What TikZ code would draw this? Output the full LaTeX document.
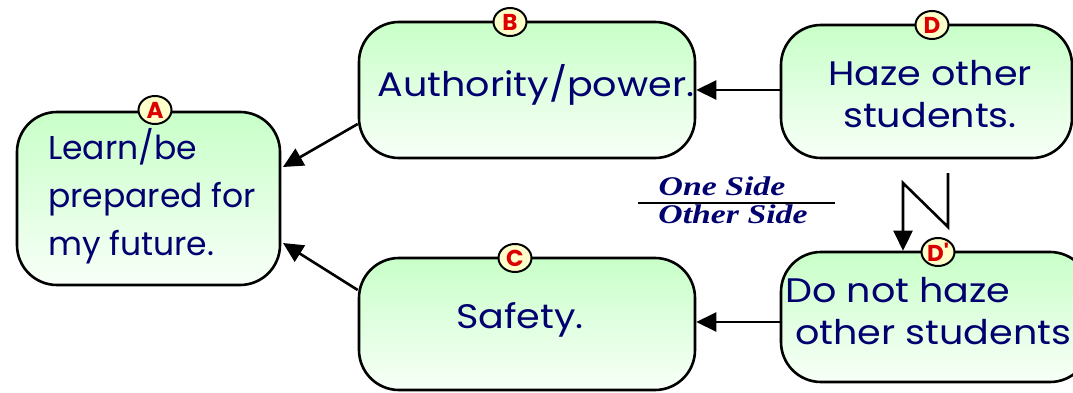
\documentclass[tikz,border=0pt]{standalone}
\usepackage{fontspec}
\setmainfont{Poppins}
\newfontfamily\boxfont[FakeStretch=1.12]{Poppins}
\newfontfamily\badgefont[Ligatures=TeXOff]{Poppins}
\newfontfamily\serifbi[FakeStretch=1.25]{Liberation Serif}
\usetikzlibrary{arrows.meta,shapes.geometric}
\definecolor{navy}{RGB}{0,0,110}
\definecolor{boxtop}{RGB}{200,255,200}
\definecolor{boxbot}{RGB}{248,255,248}
\definecolor{badgefill}{RGB}{255,255,204}
\definecolor{badgetext}{RGB}{220,0,0}
\tikzset{
  box/.style={draw=black, line width=2.6pt, rounded corners=40pt, top color=boxtop, bottom color=boxbot, inner sep=0pt, text=navy},
  badge/.style={draw=black, line width=2pt, ellipse, fill=badgefill, minimum width=33pt, minimum height=28pt, inner sep=0pt, text=badgetext, font=\badgefont\bfseries\fontsize{23}{23}\selectfont},
  conn/.style={line width=2.6pt, -{Triangle[length=20pt,width=19pt]}},
  boxtext/.style={text=navy, inner sep=0pt, font=\boxfont\fontsize{34}{42}\selectfont},
  sidetext/.style={text=navy, inner sep=0pt, anchor=base, font=\serifbi\bfseries\itshape\fontsize{27}{27}\selectfont}
}
\begin{document}
\begin{tikzpicture}[x=1pt,y=-1pt]
\useasboundingbox (0,0) rectangle (1073,393);
\clip (0,0) rectangle (1073,393);
% boxes
\node[box, minimum width=263pt, minimum height=173pt] (A) at (148.5,198.5) {};
\node[box, minimum width=336pt, minimum height=136pt] (B) at (527,90) {};
\node[box, minimum width=336pt, minimum height=132pt] (C) at (527,324) {};
\node[box, minimum width=291pt, minimum height=133pt] (D) at (926.5,91.5) {};
\node[box, minimum width=309pt, minimum height=130pt] (Dp) at (935.5,317) {};
% texts
\node[text=navy, font=\fontsize{33}{48}\selectfont, align=left, anchor=west, inner sep=0pt] (tA) at (48,196) {Learn/be\\prepared for\\my future.};
\node[boxtext] (tB) at (536,85) {Authority/power.};
\node[boxtext] (tC) at (520,320) {Safety.};
\node[boxtext, align=center] (tD) at (930,94) {Haze other\\students.};
\node[boxtext, align=left, anchor=west] (tDp) at (785,311) {Do not haze\\\hspace*{10pt}other students};
% badges
\node[badge] (bA) at (155,110) {A};
\node[badge] (bB) at (510,22) {B};
\node[badge] (bC) at (515,258) {C};
\node[badge] (bD) at (932,25) {D};
\node[badge] (bDp) at (938,252) {D'};
% connectors
\draw[conn] (B.west |- 0,124) -- (283,167);
\draw[conn] (C.west |- 0,290) -- (283,243);
\draw[conn] (D.west |- 0,90) -- (B.east |- 0,90);
\draw[conn] (Dp.west |- 0,322) -- (C.east |- 0,322);
\coordinate (n1) at (948,173);
\coordinate (n2) at (948,227);
\coordinate (n3) at (903,183);
\draw[conn, line join=miter] (n1) -- (n2) -- (n3) -- (Dp.north -| n3);
% one side / other side
\node[sidetext] (s1) at (722,195) {One Side};
\node[sidetext] (s2) at (733,223) {Other Side};
\draw[line width=1.3pt] (638,203) -- (835,203);
\end{tikzpicture}
\end{document}
